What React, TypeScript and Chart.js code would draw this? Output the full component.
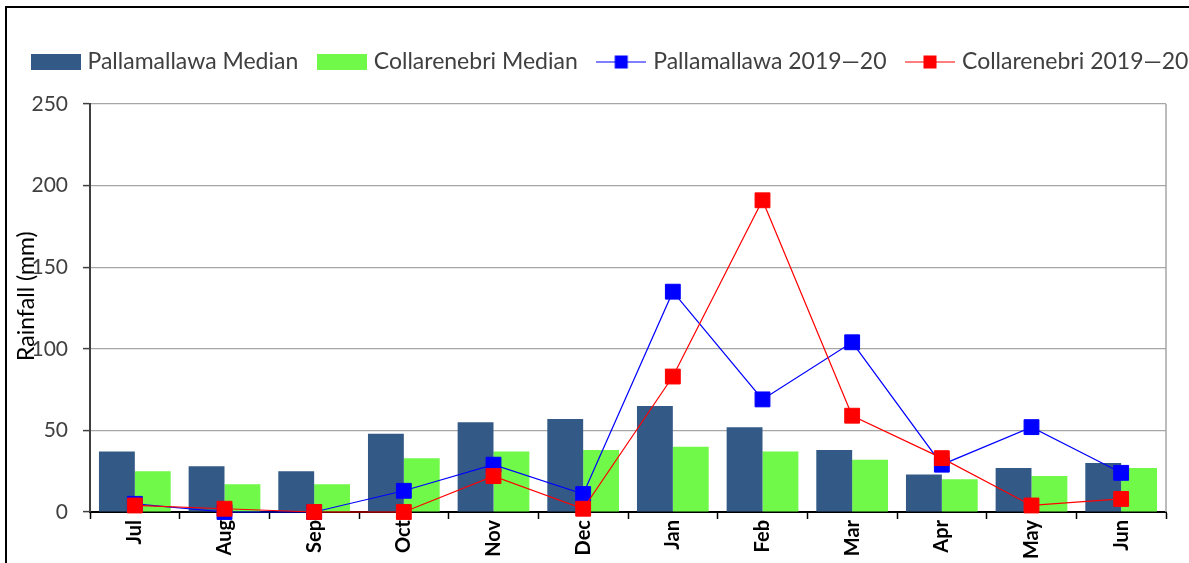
import React, { useEffect, useRef } from "react";
import { Chart, registerables } from "chart.js";

Chart.register(...registerables);

const months = ["Jul", "Aug", "Sep", "Oct", "Nov", "Dec", "Jan", "Feb", "Mar", "Apr", "May", "Jun"];
const pallamallawaMedian = [37, 28, 25, 48, 55, 57, 65, 52, 38, 23, 27, 30];
const collarenebriMedian = [25, 17, 17, 33, 37, 38, 40, 37, 32, 20, 22, 27];
const pallamallawa2019 = [5, 0, 0, 13, 29, 11, 135, 69, 104, 29, 52, 24];
const collarenebri2019 = [4, 2, 0, 0, 22, 2, 83, 191, 59, 33, 4, 8];
const yTicks = [0, 50, 100, 150, 200, 250];

const seriesNames = [
  "Pallamallawa Median",
  "Collarenebri Median",
  "Pallamallawa 2019\u201420",
  "Collarenebri 2019\u201420",
];
const colors = ["#335a87", "#70f948", "#0000ff", "#ff0000"];

const CANVAS_W = 1260;

function makeBarIcon(color: string) {
  const c = document.createElement("canvas");
  c.width = 50;
  c.height = 16;
  const g = c.getContext("2d")!;
  g.fillStyle = color;
  g.fillRect(0, 0, 50, 16);
  return c;
}

function makeLineIcon(color: string) {
  const c = document.createElement("canvas");
  c.width = 50;
  c.height = 16;
  const g = c.getContext("2d")!;
  g.strokeStyle = color;
  g.lineWidth = 1.2;
  g.beginPath();
  g.moveTo(0, 8);
  g.lineTo(50, 8);
  g.stroke();
  g.fillStyle = color;
  g.fillRect(18.5, 1.5, 13, 13);
  return c;
}

const frameBorder = {
  id: "frameBorder",
  beforeDatasetsDraw(chart: any) {
    const { ctx, chartArea } = chart;
    ctx.save();
    ctx.strokeStyle = "#a6a6a6";
    ctx.lineWidth = 1.5;
    ctx.beginPath();
    ctx.moveTo(chartArea.right, chartArea.top);
    ctx.lineTo(chartArea.right, chartArea.bottom);
    ctx.stroke();
    ctx.restore();
  },
};

export default function App() {
  const ref = useRef<HTMLCanvasElement | null>(null);

  useEffect(() => {
    document.body.style.overflow = "hidden";
    document.documentElement.style.overflow = "hidden";
    const icons = [
      makeBarIcon(colors[0]),
      makeBarIcon(colors[1]),
      makeLineIcon(colors[2]),
      makeLineIcon(colors[3]),
    ];
    const chart = new Chart(ref.current!, {
      type: "bar",
      data: {
        labels: months,
        datasets: [
          {
            type: "bar",
            label: seriesNames[0],
            data: pallamallawaMedian,
            backgroundColor: colors[0],
            categoryPercentage: 0.8,
            barPercentage: 1.0,
            order: 2,
          },
          {
            type: "bar",
            label: seriesNames[1],
            data: collarenebriMedian,
            backgroundColor: colors[1],
            categoryPercentage: 0.8,
            barPercentage: 1.0,
            order: 2,
          },
          {
            type: "line",
            label: seriesNames[2],
            data: pallamallawa2019,
            borderColor: colors[2],
            backgroundColor: colors[2],
            borderWidth: 1.2,
            pointStyle: "rect",
            pointRadius: 10.5,
            pointBorderWidth: 1,
            pointBorderColor: colors[2],
            pointBackgroundColor: colors[2],
            clip: false,
            order: 1,
          } as any,
          {
            type: "line",
            label: seriesNames[3],
            data: collarenebri2019,
            borderColor: colors[3],
            backgroundColor: colors[3],
            borderWidth: 1.2,
            pointStyle: "rect",
            pointRadius: 10.5,
            pointBorderWidth: 1,
            pointBorderColor: colors[3],
            pointBackgroundColor: colors[3],
            clip: false,
            order: 0,
          } as any,
        ],
      },
      options: {
        animation: false,
        responsive: true,
        maintainAspectRatio: false,
        layout: { padding: { top: 18.5, right: 0, left: 4, bottom: 0 } },
        plugins: {
          tooltip: { enabled: false },
          legend: {
            display: true,
            position: "top",
            align: "start",
            labels: {
              usePointStyle: true,
              pointStyleWidth: 41,
              padding: 23,
              color: "#404040",
              font: { family: "Lato", size: 23 },
              sort: (a: any, b: any) => a.datasetIndex - b.datasetIndex,
              generateLabels: (c: any) => {
                const base = Chart.defaults.plugins.legend.labels.generateLabels(c);
                return base.map((l: any) => ({
                  ...l,
                  pointStyle: icons[l.datasetIndex],
                  fontColor: "#404040",
                  lineWidth: 0,
                }));
              },
            },
          },
          subtitle: {
            display: true,
            text: "",
            weight: 500,
            font: { size: 10 },
            padding: { top: 0, bottom: 8.5 },
          } as any,
        },
        scales: {
          x: {
            type: "category",
            offset: true,
            grid: {
              display: true,
              offset: true,
              drawOnChartArea: false,
              drawTicks: true,
              tickLength: 7,
              tickColor: "#000",
              tickWidth: 1.5,
            },
            border: { display: true, color: "#000", width: 2 },
            ticks: {
              autoSkip: false,
              maxRotation: 90,
              minRotation: 90,
              padding: 1,
              color: "#000",
              font: { family: "Lato", size: 20, weight: "bold" },
            },
            afterFit: (s: any) => {
              s.height = 51;
            },
          },
          y: {
            position: "left",
            min: 0,
            max: 250,
            afterBuildTicks: (s: any) => {
              s.ticks = yTicks.map((v) => ({ value: v }));
            },
            ticks: {
              padding: 15,
              color: "#404040",
              font: { family: "Lato", size: 21 },
            },
            grid: {
              drawTicks: true,
              tickLength: 7,
              tickColor: "#404040",
              tickWidth: 1.5,
              lineWidth: 1.2,
              color: (c: any) => (c.tick && c.tick.value === 0 ? "rgba(0,0,0,0)" : "#a6a6a6"),
            },
            border: { display: true, color: "#404040", width: 2 },
            title: {
              display: true,
              text: "    Rainfall (mm)",
              color: "#000",
              font: { family: "Lato", size: 23 },
              padding: { top: 1, bottom: 0 },
            },
            afterFit: (s: any) => {
              s.width = 78;
            },
          },
          yRight: {
            type: "linear",
            position: "right",
            display: true,
            ticks: { display: false },
            grid: { display: false, drawTicks: false },
            border: { display: false },
            afterFit: (s: any) => {
              s.width = CANVAS_W - 1158;
            },
          },
        },
      },
      plugins: [frameBorder],
    });
    return () => chart.destroy();
  }, []);

  return (
    <div style={{ position: "absolute", left: 0, top: 0, width: 1189, height: 563, overflow: "hidden", background: "#fff" }}>
      <div
        style={{
          position: "absolute",
          left: 5,
          top: 6,
          width: 1300,
          height: 700,
          border: "2px solid #000",
          boxSizing: "border-box",
        }}
      />
      <div style={{ position: "absolute", left: 8, top: 9, width: CANVAS_W, height: 554 }}>
        <canvas ref={ref} />
      </div>
    </div>
  );
}
